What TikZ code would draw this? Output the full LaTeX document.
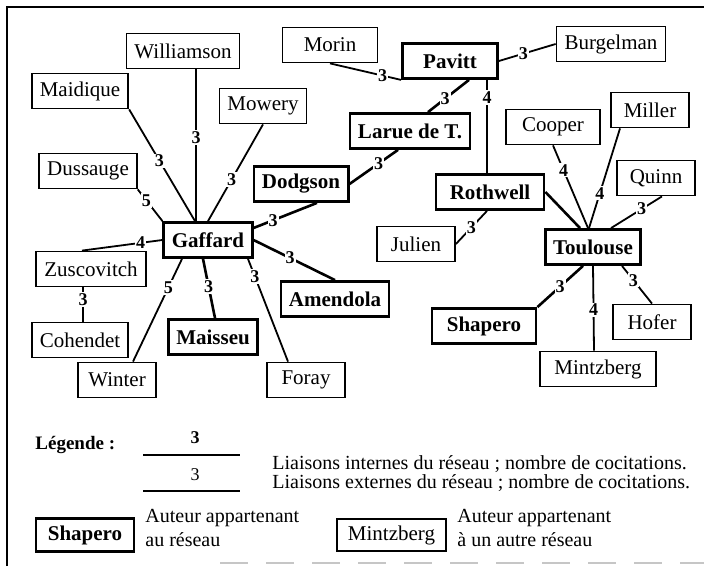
\documentclass[tikz,border=0pt]{standalone}
\usepackage{fontspec}
\setmainfont{Liberation Serif}
\usetikzlibrary{positioning}

\begin{document}
\begin{tikzpicture}[node distance=2cm, on grid,
  ext/.style={draw, line width=0.9pt, minimum width=39pt, minimum height=17.5pt,
    inner xsep=4pt, font=\fontsize{10.5}{12}\selectfont},
  net/.style={ext, line width=1.4pt, font=\fontsize{10.5}{12}\selectfont\bfseries},
  intl/.style={line width=1.3pt},
  extl/.style={line width=0.9pt},
  nb/.style={fill=white, inner sep=0.6pt, font=\fontsize{9}{10}\selectfont\bfseries},
  txt/.style={anchor=west, inner sep=0pt, font=\fontsize{10}{12}\selectfont}]

  \useasboundingbox (0,0) rectangle (352pt,-283pt);
  \draw[line width=0.8pt] (3.5pt,-283pt) -- (3.5pt,-3.5pt) -- (352pt,-3.5pt);

  % Gaffard et ses voisins
  \node[net] (gaffard) at (104pt,-120pt) {Gaffard};
  \node[ext] (williamson) [above left=94.5pt and 12.5pt of gaffard] {Williamson};
  \node[ext] (maidique)   [above left=74.5pt and 64pt of gaffard]   {Maidique};
  \node[ext] (mowery)     [above right=67pt and 27.5pt of gaffard]  {Mowery};
  \node[ext] (dussauge)   [above left=34.5pt and 60pt of gaffard]   {Dussauge};
  \node[ext] (zuscovitch) [below left=14.5pt and 58.5pt of gaffard] {Zuscovitch};
  \node[ext] (cohendet)   [below left=35.5pt and 5.5pt of zuscovitch] {Cohendet};
  \node[ext] (winter)     [below left=70pt and 45.5pt of gaffard]   {Winter};
  \node[net] (maisseu)    [below right=48.5pt and 2.5pt of gaffard] {Maisseu};
  \node[ext] (foray)      [below right=70pt and 49pt of gaffard]    {Foray};
  \node[net] (amendola)   [below right=29.5pt and 63.5pt of gaffard] {Amendola};
  \node[net] (dodgson)    [above right=28pt and 46.5pt of gaffard]  {Dodgson};

  % Pavitt
  \node[net] (larue)     [above right=26.5pt and 54.5pt of dodgson] {Larue de T.};
  \node[net, minimum width=47.5pt] (pavitt) [above right=35pt and 20pt of larue] {Pavitt};
  \node[ext, minimum width=47.5pt] (morin)  [above left=8pt and 60pt of pavitt]  {Morin};
  \node[ext] (burgelman) [above right=8.5pt and 80.5pt of pavitt] {Burgelman};
  \node[net, minimum width=54pt] (rothwell) [below right=65.5pt and 20pt of pavitt] {Rothwell};
  \node[ext] (julien)    [below left=26pt and 37pt of rothwell] {Julien};

  % Toulouse
  \node[net] (toulouse)  [below right=27.5pt and 51.5pt of rothwell] {Toulouse};
  \node[ext, minimum width=47pt] (cooper) [above left=60pt and 20pt of toulouse] {Cooper};
  \node[ext] (miller)    [above right=68.5pt and 28.5pt of toulouse] {Miller};
  \node[ext] (quinn)     [above right=34.5pt and 31.5pt of toulouse] {Quinn};
  \node[net, minimum width=52pt] (shapero) [below left=39.5pt and 54.5pt of toulouse] {Shapero};
  \node[ext, minimum width=58pt] (mintzberg) [below right=61pt and 2.5pt of toulouse] {Mintzberg};
  \node[ext] (hofer)     [below right=37.5pt and 29.5pt of toulouse] {Hofer};

  \path
    ([xshift=6.5pt]williamson.south) edge[extl] node[nb, pos=.45] {3} ([xshift=-6pt]gaffard.north)
    (maidique.south east) edge[extl] node[nb, pos=.46] {3} ([xshift=-6.5pt]gaffard.north)
    (mowery.south) edge[extl] node[nb, pos=.57] {3} (gaffard.north)
    (dussauge.south east) edge[extl] node[nb, pos=.35] {5} (gaffard.north west)
    (gaffard.west) edge[extl] node[nb, pos=.27] {4} ([xshift=-4.5pt]zuscovitch.north)
    ([xshift=-4pt]zuscovitch.south) edge[extl] node[nb, pos=.36] {3} ([xshift=1.5pt]cohendet.north)
    ([xshift=-13pt]gaffard.south) edge[extl] node[nb, pos=.28] {5} ([xshift=8pt]winter.north)
    ([xshift=-2.5pt]gaffard.south) edge[intl] node[nb, pos=.47] {3} ([xshift=1pt]maisseu.north)
    ([xshift=20pt]gaffard.south) edge[extl] node[nb, pos=.17] {3} ([xshift=-9pt]foray.north)
    (gaffard.east) edge[intl] node[nb, pos=.45] {3} (amendola.north)
    ([xshift=8pt]dodgson.south) edge[intl] node[nb, pos=.69] {3} ([yshift=6pt]gaffard.east)
    ([xshift=-6pt]larue.south) edge[intl] node[nb, pos=.4] {3} (dodgson.east)
    ([xshift=9.5pt]pavitt.south) edge[intl] node[nb, pos=.58] {3} ([xshift=9pt]larue.north)
    (morin.south) edge[extl] node[nb, pos=.74] {3} (pavitt.south west)
    (pavitt.east) edge[extl] node[nb, pos=.43] {3} (burgelman.west)
    ([xshift=18.5pt]pavitt.south) edge[intl] node[nb, pos=.19] {4} ([xshift=-1.5pt]rothwell.north)
    ([xshift=-1.5pt]rothwell.south) edge[extl] node[nb, pos=.5] {3} (julien.east)
    (rothwell.east) edge[intl] ([xshift=-6.5pt]toulouse.north)
    (cooper.south) edge[extl] node[nb, pos=.3] {4} ([xshift=-2.5pt]toulouse.north)
    ([xshift=-15pt]miller.south) edge[extl] node[nb, pos=.65] {4} ([xshift=-2pt]toulouse.north)
    ([xshift=3pt]quinn.south) edge[extl] node[nb, pos=.4] {3} ([xshift=9pt]toulouse.north)
    ([xshift=-5pt]toulouse.south) edge[intl] node[nb, pos=.5] {3} (shapero.north east)
    (toulouse.south) edge[extl] node[nb, pos=.52] {4} ([xshift=-2pt]mintzberg.north)
    ([xshift=14.5pt]toulouse.south) edge[extl] node[nb, pos=.38] {3} (hofer.north);

  % legende
  \node[txt, font=\fontsize{9.5}{11}\selectfont\bfseries] (leg) at (17.5pt,-222.5pt) {Légende :};
  \node[nb] (nbint) at (97.5pt,-219pt) {3};
  \coordinate (i1) at (71.5pt,-227.5pt);
  \coordinate (i2) at (120pt,-227.5pt);
  \draw[intl] (i1) -- (i2);
  \node[nb, font=\fontsize{9}{10}\selectfont] (nbext) at (97.5pt,-237.5pt) {3};
  \coordinate (e1) at (71.5pt,-245.5pt);
  \coordinate (e2) at (120pt,-245.5pt);
  \draw[extl] (e1) -- (e2);
  \node[txt] (tint) at (136pt,-232pt) {Liaisons internes du réseau ; nombre de cocitations.};
  \node[txt] (text) at (136pt,-241.5pt) {Liaisons externes du réseau ; nombre de cocitations.};

  \node[net, minimum width=49pt, minimum height=16pt] (lshapero) at (42.5pt,-267.5pt) {Shapero};
  \node[txt, align=left] (lnet) at (72.5pt,-264pt) {Auteur appartenant\\au réseau};
  \node[ext, minimum width=54.5pt, minimum height=16pt] (lmintz) at (195.75pt,-267.5pt) {Mintzberg};
  \node[txt, align=left] (lother) at (228.5pt,-264pt) {Auteur appartenant\\à un autre réseau};

  \draw[gray!45, line width=0.6pt, dash pattern=on 14pt off 9pt] (110pt,-281.5pt) -- (352pt,-281.5pt);
\end{tikzpicture}
\end{document}
